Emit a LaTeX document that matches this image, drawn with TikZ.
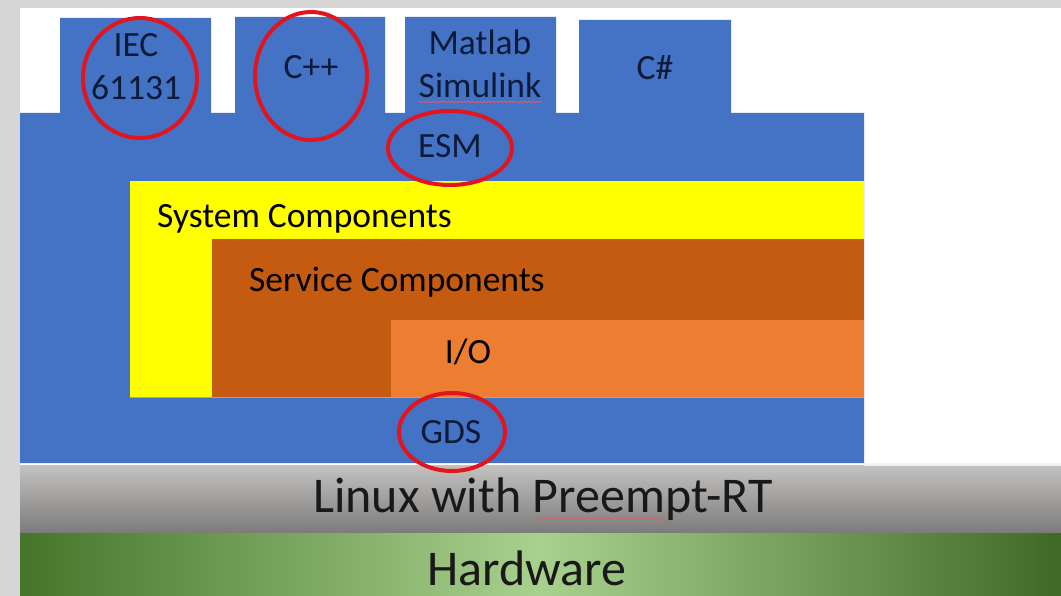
\documentclass[tikz,border=0pt]{standalone}
\usepackage{fontspec}
\setmainfont{Carlito}
\usetikzlibrary{decorations.pathmorphing}
\definecolor{frame}{HTML}{D6D6D6}
\definecolor{esmblue}{HTML}{4472C4}
\definecolor{sysyellow}{HTML}{FFFF00}
\definecolor{svcbrown}{HTML}{C55A11}
\definecolor{ioorange}{HTML}{ED7D31}
\definecolor{navytext}{HTML}{0E1B38}
\definecolor{markred}{HTML}{E2141E}
\definecolor{hwdark}{HTML}{46752A}
\definecolor{hwlight}{HTML}{A9D18E}
\definecolor{ostop}{HTML}{C4C2C0}
\definecolor{osbottom}{HTML}{7C7C7C}
\tikzset{
  lbl/.style={inner sep=0pt, anchor=base, text=navytext, font=\fontsize{35.5}{42}\selectfont},
  lblk/.style={inner sep=0pt, anchor=base, text=black, font=\fontsize{35.5}{42}\selectfont},
  biglbl/.style={inner sep=0pt, anchor=base, text=black!90, font=\fontsize{50}{58}\selectfont},
  ring/.style={draw=markred, line width=4pt},
  squiggle/.style={draw=markred!70, line width=0.7pt, decorate,
    decoration={snake, amplitude=0.8pt, segment length=4pt}},
}
\begin{document}
\begin{tikzpicture}[x=1pt,y=-1pt]
\useasboundingbox (0,0) rectangle (1061,596);
% page frame
\fill[frame] (0,0) rectangle (1061,596);
\fill[white] (20,8) rectangle (1061,596);

% hardware and operating system layers
\fill[left color=hwdark, right color=hwdark!90!black, middle color=hwlight]
  (20,532) rectangle (1061,596);
\fill[top color=ostop, bottom color=osbottom] (20,465) rectangle (1061,532);
\fill[white!80!ostop] (864,463) rectangle (1061,466);

% ESM / GDS block with language tabs
\fill[esmblue] (20,463) -- (20,113) -- (60,113) -- (60,18) -- (211,18) -- (211,113)
  -- (235,113) -- (235,17) -- (385,17) -- (385,113)
  -- (405,113) -- (405,17) -- (556,17) -- (556,113)
  -- (579,113) -- (579,20) -- (731,20) -- (731,113)
  -- (864,113) -- (864,463) -- cycle;

% component layers
\fill[sysyellow] (130,181) rectangle (864,397);
\fill[svcbrown] (212,239) rectangle (864,397);
\fill[ioorange] (391,320) rectangle (864,397);
\draw[black!35, line width=0.8pt] (130,397.5) -- (864,397.5);

% labels
\node[lbl] (iec) at (136,57) {IEC};
\node[lbl] (iecnum) at (136,100) {61131};
\node[lbl] (cpp) at (311,79) {C++};
\node[lbl] (matlab) at (480,55) {Matlab};
\node[lbl] (simulink) at (480,98) {Simulink};
\node[lbl] (csharp) at (655,80) {C\#};
\node[lbl] (esm) at (450,158) {ESM};
\node[lblk, anchor=base west] (sys) at (157,228) {System Components};
\node[lblk, anchor=base west] (svc) at (249,291) {Service Components};
\node[lblk] (io) at (468,363) {I/O};
\node[lbl] (gds) at (451,443) {GDS};
\node[biglbl] (linux) at (543,512) {Linux with Preempt-RT};
\node[biglbl] (hw) at (527,585) {Hardware};

% spelling marks
\draw[squiggle] (419,102) -- (542,102);
\draw[squiggle] (535,518) -- (665,518);

% highlight rings
\draw[ring] (140,78) ellipse [x radius=57, y radius=60];
\draw[ring] (311,76) ellipse [x radius=56, y radius=64];
\draw[ring] (450,148) ellipse [x radius=62, y radius=37];
\draw[ring] (452,432) ellipse [x radius=53, y radius=39];
\end{tikzpicture}
\end{document}
